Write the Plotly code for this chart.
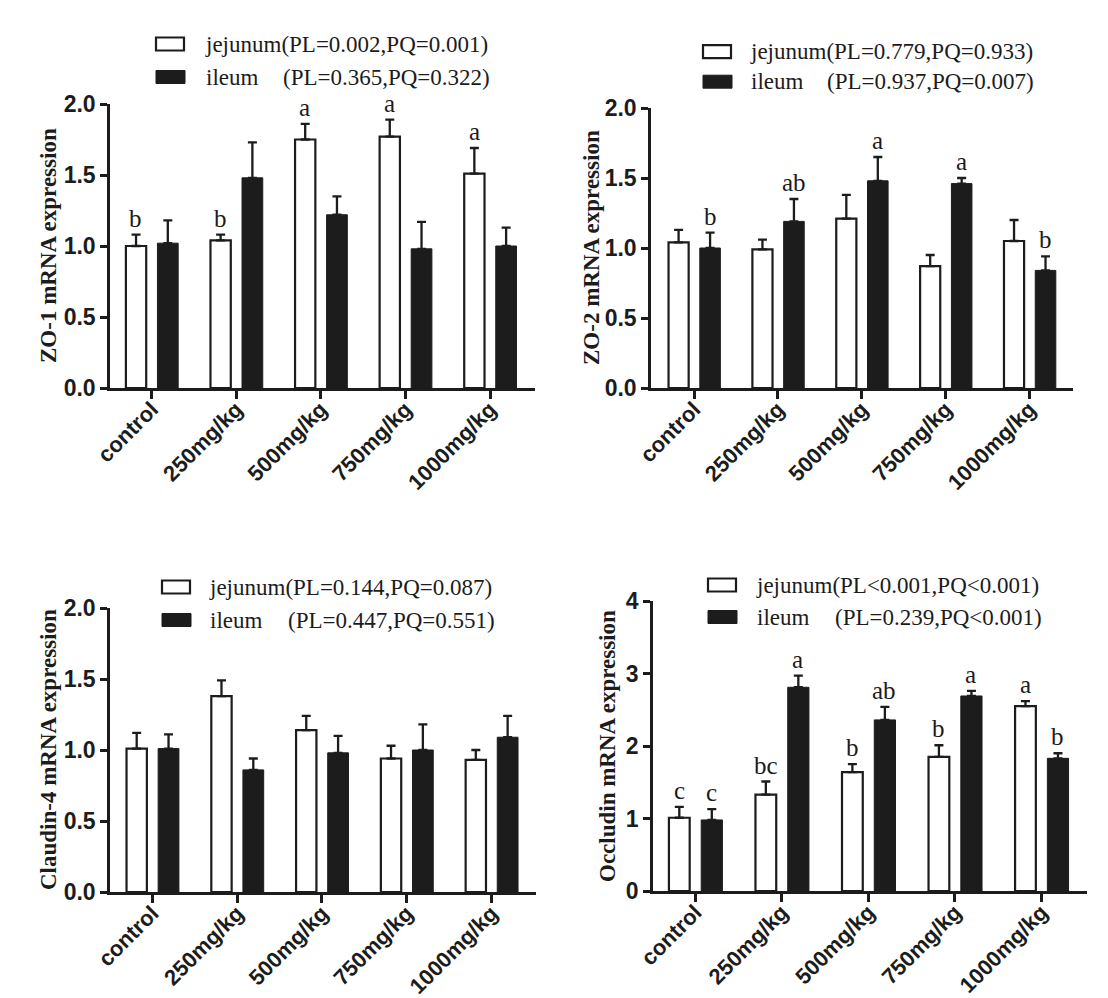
import plotly.graph_objects as go

categories = ["control", "250mg/kg", "500mg/kg", "750mg/kg", "1000mg/kg"]

# ZO-1
zo1_jej = [1.00, 1.04, 1.75, 1.77, 1.51]
zo1_jej_err = [0.08, 0.04, 0.11, 0.12, 0.18]
zo1_ile = [1.02, 1.48, 1.22, 0.98, 1.00]
zo1_ile_err = [0.16, 0.25, 0.13, 0.19, 0.13]
zo1_jej_letters = ["b", "b", "a", "a", "a"]
zo1_ile_letters = ["", "", "", "", ""]

# ZO-2
zo2_jej = [1.04, 0.99, 1.21, 0.87, 1.05]
zo2_jej_err = [0.09, 0.07, 0.17, 0.08, 0.15]
zo2_ile = [1.00, 1.19, 1.48, 1.46, 0.84]
zo2_ile_err = [0.11, 0.16, 0.17, 0.04, 0.10]
zo2_jej_letters = ["", "", "", "", ""]
zo2_ile_letters = ["b", "ab", "a", "a", "b"]

# Claudin-4
cl4_jej = [1.01, 1.38, 1.14, 0.94, 0.93]
cl4_jej_err = [0.11, 0.11, 0.10, 0.09, 0.07]
cl4_ile = [1.01, 0.86, 0.98, 1.00, 1.09]
cl4_ile_err = [0.10, 0.08, 0.12, 0.18, 0.15]
cl4_jej_letters = ["", "", "", "", ""]
cl4_ile_letters = ["", "", "", "", ""]

# Occludin
occ_jej = [1.01, 1.33, 1.64, 1.85, 2.55]
occ_jej_err = [0.15, 0.18, 0.11, 0.16, 0.07]
occ_ile = [0.98, 2.81, 2.36, 2.69, 1.83]
occ_ile_err = [0.15, 0.16, 0.18, 0.07, 0.07]
occ_jej_letters = ["c", "bc", "b", "b", "a"]
occ_ile_letters = ["c", "a", "ab", "a", "b"]

y_titles = ["ZO-1 mRNA expression", "ZO-2 mRNA expression",
            "Claudin-4 mRNA expression", "Occludin mRNA expression"]
jej_labels = ["jejunum(PL=0.002,PQ=0.001)", "jejunum(PL=0.779,PQ=0.933)",
              "jejunum(PL=0.144,PQ=0.087)", "jejunum(PL<0.001,PQ<0.001)"]
ile_pvals = ["(PL=0.365,PQ=0.322)", "(PL=0.937,PQ=0.007)",
             "(PL=0.447,PQ=0.551)", "(PL=0.239,PQ<0.001)"]
y_max = [2.0, 2.0, 2.0, 4.0]
y_dtick = [0.5, 0.5, 0.5, 1.0]
y_fmt = [".1f", ".1f", ".1f", "d"]

panels = [
    (zo1_jej, zo1_jej_err, zo1_ile, zo1_ile_err, zo1_jej_letters, zo1_ile_letters),
    (zo2_jej, zo2_jej_err, zo2_ile, zo2_ile_err, zo2_jej_letters, zo2_ile_letters),
    (cl4_jej, cl4_jej_err, cl4_ile, cl4_ile_err, cl4_jej_letters, cl4_ile_letters),
    (occ_jej, occ_jej_err, occ_ile, occ_ile_err, occ_jej_letters, occ_ile_letters),
]

W, H = 1108, 998
# plot areas in pixels: (left, right, top, bottom)
areas = [(110, 535, 104, 388), (651, 1073, 108, 388),
         (110, 536, 608, 892), (653, 1087, 601, 891)]
xranges = [[-0.493, 4.532], [-0.514, 4.518], [-0.5, 4.525], [-0.489, 4.526]]
# y-title centre x (pixels)
title_x = [48, 591, 48, 607]
# legend anchor: (box_left, jej_center_y, ile_center_y, text_left, pval_left)
legpos = [(156, 44, 77, 203, 281), (703, 51.7, 81.7, 748, 825),
          (162, 587, 620, 207, 286), (708, 585, 617, 754, 833)]

INK = "#1c1c1c"
fig = go.Figure()
annotations = []
shapes = []

for i, (jm, je, im, ie, jl, il) in enumerate(panels):
    n = "" if i == 0 else str(i + 1)
    xa, ya = "x" + n, "y" + n
    fig.add_trace(go.Bar(
        x=categories, y=jm, xaxis=xa, yaxis=ya, offset=-0.305, width=0.24,
        marker=dict(color="white", line=dict(color=INK, width=2.2)),
        error_y=dict(type="data", array=je, arrayminus=[0] * 5, symmetric=False,
                     color=INK, thickness=2.3, width=4.5),
        showlegend=False, name="jejunum", cliponaxis=False))
    fig.add_trace(go.Bar(
        x=categories, y=im, xaxis=xa, yaxis=ya, offset=0.068, width=0.245,
        marker=dict(color=INK, line=dict(color=INK, width=1)),
        error_y=dict(type="data", array=ie, arrayminus=[0] * 5, symmetric=False,
                     color=INK, thickness=2.3, width=4.5),
        showlegend=False, name="ileum", cliponaxis=False))

    L, R, T, B = areas[i]
    fig.layout["xaxis" + n] = dict(
        domain=[L / W, R / W], anchor=ya, range=xranges[i], type="category",
        showline=True, linewidth=2.5, linecolor=INK, ticks="outside",
        ticklen=8, tickwidth=2.5, tickcolor=INK, tickangle=-45, automargin=False,
        ticklabelstandoff=-11,
        tickfont=dict(family="Liberation Sans", size=22, color=INK, weight="bold"),
        showgrid=False, zeroline=False, fixedrange=True)
    fig.layout["yaxis" + n] = dict(
        domain=[1 - B / H, 1 - T / H], anchor=xa, range=[0, y_max[i]],
        dtick=y_dtick[i], tick0=0, tickformat=y_fmt[i], automargin=False,
        showline=True, linewidth=2.5, linecolor=INK, ticks="outside",
        ticklen=7, tickwidth=2.5, tickcolor=INK,
        tickfont=dict(family="Liberation Sans", size=23, color=INK, weight="bold"),
        showgrid=False, zeroline=False, fixedrange=True)

    # y-axis title
    annotations.append(dict(
        x=title_x[i] / W, y=1 - (T + B) / 2 / H, xref="paper", yref="paper",
        text=y_titles[i], textangle=-90, showarrow=False,
        xanchor="center", yanchor="middle",
        font=dict(family="Liberation Serif", size=23, color=INK, weight="bold")))

    # significance letters
    for k in range(5):
        for letters, means, errs, dx in ((jl, jm, je, -16), (il, im, ie, 16)):
            if letters[k]:
                annotations.append(dict(
                    x=categories[k], y=means[k] + errs[k], xref=xa, yref=ya,
                    text=letters[k], showarrow=False, xanchor="center",
                    yanchor="bottom", xshift=dx, yshift=1,
                    font=dict(family="Liberation Serif", size=25, color=INK)))

    # legend (drawn per panel)
    bx, jy, iy, tx, px = legpos[i]
    shapes.append(dict(type="rect", xref="paper", yref="paper",
                       x0=bx / W, x1=(bx + 28) / W,
                       y0=1 - (jy + 6.5) / H, y1=1 - (jy - 6.5) / H,
                       line=dict(color=INK, width=2.2), fillcolor="white"))
    shapes.append(dict(type="rect", xref="paper", yref="paper",
                       x0=bx / W, x1=(bx + 29) / W,
                       y0=1 - (iy + 6.5) / H, y1=1 - (iy - 6.5) / H,
                       line=dict(color=INK, width=1), fillcolor=INK))
    legfont = dict(family="Liberation Serif", size=23, color=INK)
    annotations.append(dict(x=tx / W, y=1 - jy / H, xref="paper", yref="paper",
                            text=jej_labels[i], showarrow=False, xanchor="left",
                            yanchor="middle", font=legfont))
    annotations.append(dict(x=(tx + 1) / W, y=1 - iy / H, xref="paper", yref="paper",
                            text="ileum", showarrow=False, xanchor="left",
                            yanchor="middle", font=legfont))
    annotations.append(dict(x=px / W, y=1 - iy / H, xref="paper", yref="paper",
                            text=ile_pvals[i], showarrow=False, xanchor="left",
                            yanchor="middle", font=legfont))

fig.update_layout(
    width=W, height=H, margin=dict(l=0, r=0, t=0, b=0),
    paper_bgcolor="white", plot_bgcolor="white",
    annotations=annotations, shapes=shapes, showlegend=False)

fig.write_html(
    "out.html",
    config={"displayModeBar": False},
    post_script="document.body.style.margin='0';document.body.style.padding='0';"
                "document.body.style.overflow='hidden';")
